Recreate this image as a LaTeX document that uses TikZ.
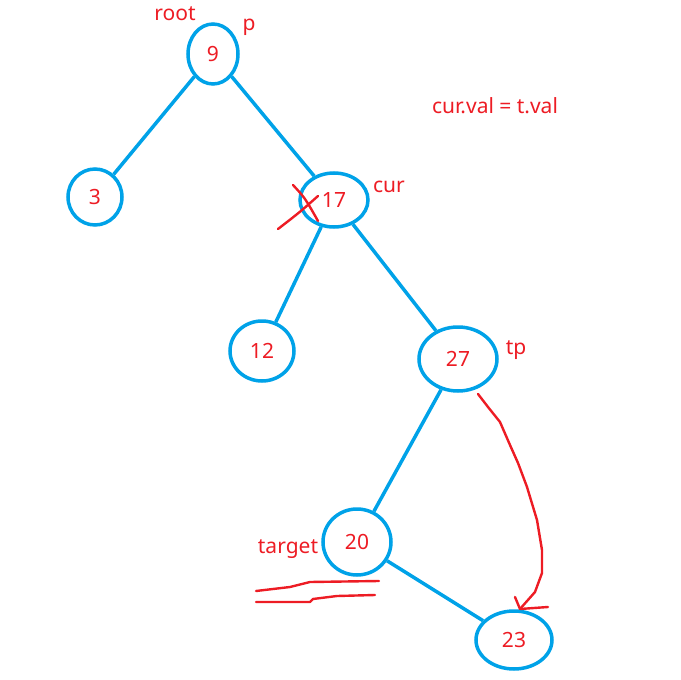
\documentclass[tikz,border=0pt]{standalone}
\usepackage{fontspec}
\setmainfont{Noto Sans}
\usetikzlibrary{shapes.geometric}
\definecolor{pblue}{RGB}{0,162,232}
\definecolor{pred}{RGB}{237,28,36}
\begin{document}
\begin{tikzpicture}[x=1pt,y=-1pt,
  tnode/.style={ellipse,draw=pblue,line width=3.5pt,inner sep=0pt,text=pred,font=\fontsize{21}{21}\selectfont},
  edge/.style={draw=pblue,line width=3.5pt},
  lbl/.style={text=pred,font=\fontsize{21}{21}\selectfont,inner sep=0pt},
  redline/.style={draw=pred,line width=2.4pt,line cap=round,line join=round}]
\useasboundingbox (0,0) rectangle (681,680);
\node[tnode,minimum width=50pt,minimum height=60pt] (n9) at (213,54) {9};
\node[tnode,minimum width=54pt,minimum height=56pt] (n3) at (95,197) {3};
\node[tnode,minimum width=68pt,minimum height=54pt] (n17) at (334,200) {17};
\node[tnode,minimum width=64pt,minimum height=60pt] (n12) at (262,351) {12};
\node[tnode,minimum width=78pt,minimum height=64pt] (n27) at (458,359) {27};
\node[tnode,minimum width=68pt,minimum height=66pt] (n20) at (357,542) {20};
\node[tnode,minimum width=76pt,minimum height=58pt] (n23) at (514,640) {23};
\draw[edge] (n9) -- (n3);
\draw[edge] (n9) -- (n17);
\draw[edge] (n17) -- (n12);
\draw[edge] (n17) -- (n27);
\draw[edge] (n27) -- (n20);
\draw[edge] (n20) -- (n23);
\node[lbl] (lroot) at (175,14) {root};
\node[lbl] (lp) at (249,27) {p};
\node[lbl] (lcur) at (389,187) {cur};
\node[lbl] (ltp) at (516,350) {tp};
\node[lbl] (ltarget) at (288,549) {target};
\node[lbl] (leq) at (495,106) {cur.val = t.val};
% cross on 17
\draw[redline] (293,185) .. controls (305,198) .. (318,221);
\draw[redline] (278,229) .. controls (300,212) .. (318,196);
% curved arrow from 27 to 23
\coordinate (as) at (478,394);
\coordinate (ae) at (520,609);
\draw[redline] (as) -- (488,407) -- (500,422) -- (510,445) -- (518,463) -- (527,487) -- (537,520) -- (542,550) -- (542,573) -- (535,592) -- (ae);
\draw[redline] (515,597) -- (ae) -- (548,607);
% underlines under target
\draw[redline] (256,591) -- (290,587) -- (310,582) -- (379,581);
\draw[redline] (256,602) -- (310,602) -- (313,599) -- (337,596) -- (375,595);
\end{tikzpicture}
\end{document}
